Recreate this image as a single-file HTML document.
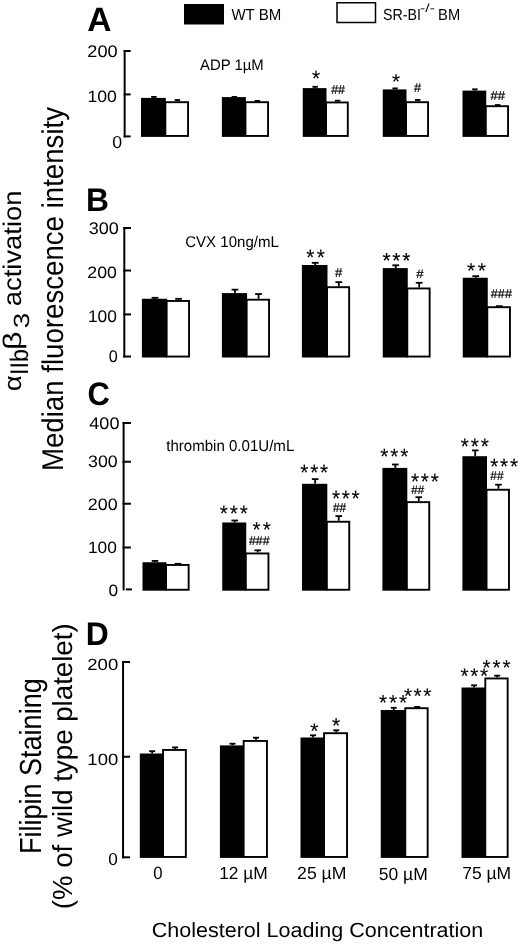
<!DOCTYPE html>
<html lang="en"><head><meta charset="utf-8"><title>Figure</title>
<style>html,body{margin:0;padding:0;background:#fff}svg{display:block;will-change:transform;opacity:0.999}text{text-rendering:geometricPrecision;font-family:"Liberation Sans",sans-serif;fill:#000}</style>
</head><body>
<svg width="520" height="944" viewBox="0 0 520 944">
<rect width="520" height="944" fill="#fff"/>
<g shape-rendering="auto">
<rect x="184.00" y="4.00" width="40.00" height="20.50" fill="#000"/>
<rect x="337.00" y="2.75" width="38.50" height="19.75" fill="#fff" stroke="#000" stroke-width="1.5"/>
<path d="M124.65 50.00L124.65 137.40" stroke="#000" stroke-width="2.0" fill="none"/>
<path d="M123.65 51.00L130.60 51.00" stroke="#000" stroke-width="2.0" fill="none"/>
<path d="M123.65 94.40L130.60 94.40" stroke="#000" stroke-width="2.0" fill="none"/>
<path d="M123.65 136.40L130.60 136.40" stroke="#000" stroke-width="2.0" fill="none"/>
<rect x="141.00" y="97.90" width="24.80" height="39.00" fill="#000"/>
<rect x="165.35" y="102.20" width="22.70" height="33.75" fill="#fff" stroke="#000" stroke-width="1.9"/>
<path d="M153.90 97.90L153.90 96.90" stroke="#000" stroke-width="1.8" fill="none"/>
<path d="M151.15 96.90L156.65 96.90" stroke="#000" stroke-width="1.8" fill="none"/>
<path d="M177.40 101.25L177.40 100.00" stroke="#000" stroke-width="1.8" fill="none"/>
<path d="M174.65 100.00L180.15 100.00" stroke="#000" stroke-width="1.8" fill="none"/>
<rect x="221.90" y="97.10" width="24.00" height="39.80" fill="#000"/>
<rect x="245.45" y="102.20" width="22.60" height="33.75" fill="#fff" stroke="#000" stroke-width="1.9"/>
<path d="M234.40 97.10L234.40 96.90" stroke="#000" stroke-width="1.8" fill="none"/>
<path d="M231.65 96.90L237.15 96.90" stroke="#000" stroke-width="1.8" fill="none"/>
<path d="M257.45 101.25L257.45 100.90" stroke="#000" stroke-width="1.8" fill="none"/>
<path d="M254.70 100.90L260.20 100.90" stroke="#000" stroke-width="1.8" fill="none"/>
<rect x="302.75" y="88.10" width="23.75" height="48.80" fill="#000"/>
<rect x="326.05" y="102.45" width="21.75" height="33.50" fill="#fff" stroke="#000" stroke-width="1.9"/>
<path d="M315.12 88.10L315.12 86.80" stroke="#000" stroke-width="1.8" fill="none"/>
<path d="M312.38 86.80L317.88 86.80" stroke="#000" stroke-width="1.8" fill="none"/>
<path d="M337.62 101.50L337.62 100.65" stroke="#000" stroke-width="1.8" fill="none"/>
<path d="M334.88 100.65L340.38 100.65" stroke="#000" stroke-width="1.8" fill="none"/>
<rect x="382.75" y="89.40" width="23.75" height="47.50" fill="#000"/>
<rect x="406.05" y="102.20" width="22.00" height="33.75" fill="#fff" stroke="#000" stroke-width="1.9"/>
<path d="M395.12 89.40L395.12 88.40" stroke="#000" stroke-width="1.8" fill="none"/>
<path d="M392.38 88.40L397.88 88.40" stroke="#000" stroke-width="1.8" fill="none"/>
<path d="M417.75 101.25L417.75 99.90" stroke="#000" stroke-width="1.8" fill="none"/>
<path d="M415.00 99.90L420.50 99.90" stroke="#000" stroke-width="1.8" fill="none"/>
<rect x="462.50" y="90.60" width="23.75" height="46.30" fill="#000"/>
<rect x="485.80" y="106.20" width="22.25" height="29.75" fill="#fff" stroke="#000" stroke-width="1.9"/>
<path d="M474.88 90.60L474.88 89.30" stroke="#000" stroke-width="1.8" fill="none"/>
<path d="M472.12 89.30L477.62 89.30" stroke="#000" stroke-width="1.8" fill="none"/>
<path d="M497.62 105.25L497.62 105.00" stroke="#000" stroke-width="1.8" fill="none"/>
<path d="M494.88 105.00L500.38 105.00" stroke="#000" stroke-width="1.8" fill="none"/>
<path d="M124.30 227.00L124.30 357.50" stroke="#000" stroke-width="2.0" fill="none"/>
<path d="M123.30 228.00L131.00 228.00" stroke="#000" stroke-width="2.0" fill="none"/>
<path d="M123.30 270.50L131.00 270.50" stroke="#000" stroke-width="2.0" fill="none"/>
<path d="M123.30 314.40L131.00 314.40" stroke="#000" stroke-width="2.0" fill="none"/>
<path d="M123.30 356.50L131.00 356.50" stroke="#000" stroke-width="2.0" fill="none"/>
<rect x="141.90" y="298.75" width="25.20" height="58.75" fill="#000"/>
<rect x="166.65" y="300.95" width="22.40" height="55.60" fill="#fff" stroke="#000" stroke-width="1.9"/>
<path d="M155.00 298.75L155.00 297.80" stroke="#000" stroke-width="1.8" fill="none"/>
<path d="M151.60 297.80L158.40 297.80" stroke="#000" stroke-width="1.8" fill="none"/>
<path d="M178.55 300.00L178.55 298.80" stroke="#000" stroke-width="1.8" fill="none"/>
<path d="M175.15 298.80L181.95 298.80" stroke="#000" stroke-width="1.8" fill="none"/>
<rect x="221.90" y="293.10" width="25.20" height="64.40" fill="#000"/>
<rect x="246.65" y="299.70" width="22.40" height="56.85" fill="#fff" stroke="#000" stroke-width="1.9"/>
<path d="M235.00 293.10L235.00 289.65" stroke="#000" stroke-width="1.8" fill="none"/>
<path d="M231.60 289.65L238.40 289.65" stroke="#000" stroke-width="1.8" fill="none"/>
<path d="M258.55 298.75L258.55 294.00" stroke="#000" stroke-width="1.8" fill="none"/>
<path d="M255.15 294.00L261.95 294.00" stroke="#000" stroke-width="1.8" fill="none"/>
<rect x="301.90" y="265.00" width="25.60" height="92.50" fill="#000"/>
<rect x="327.05" y="287.20" width="22.10" height="69.35" fill="#fff" stroke="#000" stroke-width="1.9"/>
<path d="M315.20 265.00L315.20 262.80" stroke="#000" stroke-width="1.8" fill="none"/>
<path d="M311.80 262.80L318.60 262.80" stroke="#000" stroke-width="1.8" fill="none"/>
<path d="M338.80 286.25L338.80 282.15" stroke="#000" stroke-width="1.8" fill="none"/>
<path d="M335.40 282.15L342.20 282.15" stroke="#000" stroke-width="1.8" fill="none"/>
<rect x="382.75" y="268.10" width="25.00" height="89.40" fill="#000"/>
<rect x="407.30" y="288.45" width="22.35" height="68.10" fill="#fff" stroke="#000" stroke-width="1.9"/>
<path d="M395.75 268.10L395.75 265.30" stroke="#000" stroke-width="1.8" fill="none"/>
<path d="M392.35 265.30L399.15 265.30" stroke="#000" stroke-width="1.8" fill="none"/>
<path d="M419.18 287.50L419.18 282.80" stroke="#000" stroke-width="1.8" fill="none"/>
<path d="M415.78 282.80L422.57 282.80" stroke="#000" stroke-width="1.8" fill="none"/>
<rect x="462.75" y="277.75" width="25.00" height="79.75" fill="#000"/>
<rect x="487.30" y="307.20" width="22.65" height="49.35" fill="#fff" stroke="#000" stroke-width="1.9"/>
<path d="M475.75 277.75L475.75 276.15" stroke="#000" stroke-width="1.8" fill="none"/>
<path d="M472.35 276.15L479.15 276.15" stroke="#000" stroke-width="1.8" fill="none"/>
<path d="M499.32 306.25L499.32 306.15" stroke="#000" stroke-width="1.8" fill="none"/>
<path d="M495.93 306.15L502.72 306.15" stroke="#000" stroke-width="1.8" fill="none"/>
<path d="M123.60 422.00L123.60 590.40" stroke="#000" stroke-width="2.0" fill="none"/>
<path d="M122.60 423.00L130.90 423.00" stroke="#000" stroke-width="2.0" fill="none"/>
<path d="M122.60 461.75L130.90 461.75" stroke="#000" stroke-width="2.0" fill="none"/>
<path d="M122.60 503.75L130.90 503.75" stroke="#000" stroke-width="2.0" fill="none"/>
<path d="M122.60 547.50L130.90 547.50" stroke="#000" stroke-width="2.0" fill="none"/>
<path d="M125.80 589.40L131.90 589.40" stroke="#000" stroke-width="2.0" fill="none"/>
<rect x="142.50" y="562.25" width="24.00" height="28.45" fill="#000"/>
<rect x="166.05" y="564.95" width="22.60" height="24.80" fill="#fff" stroke="#000" stroke-width="1.9"/>
<path d="M155.00 562.25L155.00 560.90" stroke="#000" stroke-width="1.8" fill="none"/>
<path d="M151.70 560.90L158.30 560.90" stroke="#000" stroke-width="1.8" fill="none"/>
<path d="M178.05 564.00L178.05 563.80" stroke="#000" stroke-width="1.8" fill="none"/>
<path d="M174.75 563.80L181.35 563.80" stroke="#000" stroke-width="1.8" fill="none"/>
<rect x="222.25" y="522.50" width="24.00" height="68.20" fill="#000"/>
<rect x="245.80" y="553.45" width="22.65" height="36.30" fill="#fff" stroke="#000" stroke-width="1.9"/>
<path d="M234.75 522.50L234.75 520.50" stroke="#000" stroke-width="1.8" fill="none"/>
<path d="M231.45 520.50L238.05 520.50" stroke="#000" stroke-width="1.8" fill="none"/>
<path d="M257.82 552.50L257.82 550.30" stroke="#000" stroke-width="1.8" fill="none"/>
<path d="M254.52 550.30L261.12 550.30" stroke="#000" stroke-width="1.8" fill="none"/>
<rect x="302.00" y="483.80" width="25.30" height="106.90" fill="#000"/>
<rect x="326.85" y="521.75" width="22.40" height="68.00" fill="#fff" stroke="#000" stroke-width="1.9"/>
<path d="M315.15 483.80L315.15 479.10" stroke="#000" stroke-width="1.8" fill="none"/>
<path d="M311.85 479.10L318.45 479.10" stroke="#000" stroke-width="1.8" fill="none"/>
<path d="M338.75 520.80L338.75 516.10" stroke="#000" stroke-width="1.8" fill="none"/>
<path d="M335.45 516.10L342.05 516.10" stroke="#000" stroke-width="1.8" fill="none"/>
<rect x="382.40" y="467.90" width="24.90" height="122.80" fill="#000"/>
<rect x="406.85" y="502.15" width="22.40" height="87.60" fill="#fff" stroke="#000" stroke-width="1.9"/>
<path d="M395.35 467.90L395.35 464.50" stroke="#000" stroke-width="1.8" fill="none"/>
<path d="M392.05 464.50L398.65 464.50" stroke="#000" stroke-width="1.8" fill="none"/>
<path d="M418.75 501.20L418.75 497.20" stroke="#000" stroke-width="1.8" fill="none"/>
<path d="M415.45 497.20L422.05 497.20" stroke="#000" stroke-width="1.8" fill="none"/>
<rect x="462.40" y="456.20" width="24.60" height="134.50" fill="#000"/>
<rect x="486.55" y="489.75" width="22.40" height="100.00" fill="#fff" stroke="#000" stroke-width="1.9"/>
<path d="M475.20 456.20L475.20 450.40" stroke="#000" stroke-width="1.8" fill="none"/>
<path d="M471.90 450.40L478.50 450.40" stroke="#000" stroke-width="1.8" fill="none"/>
<path d="M498.45 488.80L498.45 484.70" stroke="#000" stroke-width="1.8" fill="none"/>
<path d="M495.15 484.70L501.75 484.70" stroke="#000" stroke-width="1.8" fill="none"/>
<path d="M123.05 661.00L123.05 858.30" stroke="#000" stroke-width="2.0" fill="none"/>
<path d="M122.05 662.00L130.00 662.00" stroke="#000" stroke-width="2.0" fill="none"/>
<path d="M122.05 756.75L130.00 756.75" stroke="#000" stroke-width="2.0" fill="none"/>
<path d="M122.05 857.30L130.00 857.30" stroke="#000" stroke-width="2.0" fill="none"/>
<rect x="139.80" y="753.50" width="23.70" height="104.40" fill="#000"/>
<rect x="163.05" y="749.95" width="22.80" height="107.00" fill="#fff" stroke="#000" stroke-width="1.9"/>
<path d="M152.15 753.50L152.15 751.20" stroke="#000" stroke-width="1.8" fill="none"/>
<path d="M149.15 751.20L155.15 751.20" stroke="#000" stroke-width="1.8" fill="none"/>
<path d="M175.15 749.00L175.15 747.40" stroke="#000" stroke-width="1.8" fill="none"/>
<path d="M172.15 747.40L178.15 747.40" stroke="#000" stroke-width="1.8" fill="none"/>
<rect x="219.90" y="745.40" width="24.20" height="112.50" fill="#000"/>
<rect x="243.65" y="740.95" width="23.30" height="116.00" fill="#fff" stroke="#000" stroke-width="1.9"/>
<path d="M232.50 745.40L232.50 743.70" stroke="#000" stroke-width="1.8" fill="none"/>
<path d="M229.50 743.70L235.50 743.70" stroke="#000" stroke-width="1.8" fill="none"/>
<path d="M256.00 740.00L256.00 737.70" stroke="#000" stroke-width="1.8" fill="none"/>
<path d="M253.00 737.70L259.00 737.70" stroke="#000" stroke-width="1.8" fill="none"/>
<rect x="300.50" y="737.50" width="24.00" height="120.40" fill="#000"/>
<rect x="324.05" y="733.20" width="23.00" height="123.75" fill="#fff" stroke="#000" stroke-width="1.9"/>
<path d="M313.00 737.50L313.00 735.30" stroke="#000" stroke-width="1.8" fill="none"/>
<path d="M310.00 735.30L316.00 735.30" stroke="#000" stroke-width="1.8" fill="none"/>
<path d="M336.25 732.25L336.25 730.30" stroke="#000" stroke-width="1.8" fill="none"/>
<path d="M333.25 730.30L339.25 730.30" stroke="#000" stroke-width="1.8" fill="none"/>
<rect x="380.75" y="710.00" width="25.00" height="147.90" fill="#000"/>
<rect x="405.30" y="708.20" width="22.35" height="148.75" fill="#fff" stroke="#000" stroke-width="1.9"/>
<path d="M393.75 710.00L393.75 707.80" stroke="#000" stroke-width="1.8" fill="none"/>
<path d="M390.75 707.80L396.75 707.80" stroke="#000" stroke-width="1.8" fill="none"/>
<path d="M417.18 707.25L417.18 706.90" stroke="#000" stroke-width="1.8" fill="none"/>
<path d="M414.18 706.90L420.18 706.90" stroke="#000" stroke-width="1.8" fill="none"/>
<rect x="461.50" y="687.50" width="24.25" height="170.40" fill="#000"/>
<rect x="485.30" y="678.45" width="22.35" height="178.50" fill="#fff" stroke="#000" stroke-width="1.9"/>
<path d="M474.12 687.50L474.12 685.30" stroke="#000" stroke-width="1.8" fill="none"/>
<path d="M471.12 685.30L477.12 685.30" stroke="#000" stroke-width="1.8" fill="none"/>
<path d="M497.18 677.50L497.18 675.65" stroke="#000" stroke-width="1.8" fill="none"/>
<path d="M494.18 675.65L500.18 675.65" stroke="#000" stroke-width="1.8" fill="none"/>
</g>
<g>
<text transform="translate(231.42 20.00) scale(0.9392 1)" font-size="16.00">WT BM</text>
<text transform="translate(383.06 19.50) scale(0.8893 1)" font-size="16.00">SR-BI</text>
<text transform="translate(420.09 12.18) scale(1.3241 1)" font-size="11.84">-/-</text>
<text transform="translate(438.09 19.50) scale(0.9176 1)" font-size="16.00">BM</text>
<text transform="translate(87.26 31.25) scale(0.9973 1)" font-size="33.67" font-weight="bold">A</text>
<text transform="translate(85.95 211.25) scale(0.9718 1)" font-size="32.73" font-weight="bold">B</text>
<text transform="translate(87.51 405.27) scale(0.9469 1)" font-size="32.65" font-weight="bold">C</text>
<text transform="translate(85.85 645.00) scale(0.9728 1)" font-size="32.73" font-weight="bold">D</text>
<text transform="translate(87.29 57.03) scale(1.0747 1)" font-size="16.96">200</text>
<text transform="translate(87.42 101.74) scale(1.0786 1)" font-size="16.40">100</text>
<text transform="translate(112.29 148.33) scale(1.0239 1)" font-size="17.39">0</text>
<text transform="translate(199.96 70.20) scale(0.9738 1)" font-size="15.30">ADP 1µM</text>
<text transform="translate(311.89 86.22) scale(0.9350 1)" font-size="22.14" stroke="#000" stroke-width="0.12">*</text>
<text transform="translate(331.19 94.00) scale(0.9492 1)" font-size="13.14" stroke="#000" stroke-width="0.2">##</text>
<text transform="translate(391.89 88.73) scale(0.9662 1)" font-size="21.43" stroke="#000" stroke-width="0.12">*</text>
<text transform="translate(413.94 92.25) scale(1.0009 1)" font-size="12.77" stroke="#000" stroke-width="0.2">#</text>
<text transform="translate(490.53 100.40) scale(1.0053 1)" font-size="12.99" stroke="#000" stroke-width="0.2">##</text>
<text transform="translate(88.72 233.58) scale(1.0760 1)" font-size="16.75">300</text>
<text transform="translate(87.36 277.53) scale(1.0716 1)" font-size="16.54">200</text>
<text transform="translate(87.95 322.03) scale(1.0323 1)" font-size="16.82">100</text>
<text transform="translate(108.65 362.33) scale(0.9587 1)" font-size="16.82">0</text>
<text transform="translate(185.25 247.30) scale(0.9694 1)" font-size="15.50">CVX 10ng/mL</text>
<text transform="translate(306.14 264.72) scale(0.9354 1)" font-size="22.29" stroke="#000" stroke-width="0.12" letter-spacing="2.557">**</text>
<text transform="translate(335.03 276.70) scale(1.0122 1)" font-size="12.99" stroke="#000" stroke-width="0.2">#</text>
<text transform="translate(382.39 267.78) scale(0.9537 1)" font-size="21.86" stroke="#000" stroke-width="0.12" letter-spacing="1.904">***</text>
<text transform="translate(416.18 277.50) scale(1.0672 1)" font-size="12.41" stroke="#000" stroke-width="0.2">#</text>
<text transform="translate(466.89 278.23) scale(0.9728 1)" font-size="21.43" stroke="#000" stroke-width="0.12" letter-spacing="2.715">**</text>
<text transform="translate(490.84 297.50) scale(0.9904 1)" font-size="12.77" stroke="#000" stroke-width="0.2">###</text>
<text transform="translate(89.34 428.58) scale(1.0771 1)" font-size="16.75">400</text>
<text transform="translate(88.08 467.08) scale(1.0681 1)" font-size="16.61">300</text>
<text transform="translate(87.86 510.33) scale(1.0766 1)" font-size="16.61">200</text>
<text transform="translate(87.95 553.04) scale(1.0590 1)" font-size="16.40">100</text>
<text transform="translate(108.56 595.53) scale(1.0448 1)" font-size="16.54">0</text>
<text transform="translate(166.27 451.40) scale(0.9651 1)" font-size="15.60">thrombin 0.01U/mL</text>
<text transform="translate(219.64 520.92) scale(0.9354 1)" font-size="22.29" stroke="#000" stroke-width="0.12" letter-spacing="2.075">***</text>
<text transform="translate(252.54 537.08) scale(0.9663 1)" font-size="21.57" stroke="#000" stroke-width="0.12" letter-spacing="2.268">**</text>
<text transform="translate(248.94 544.75) scale(0.9715 1)" font-size="12.77" stroke="#000" stroke-width="0.2">###</text>
<text transform="translate(300.34 480.23) scale(0.9475 1)" font-size="22.00" stroke="#000" stroke-width="0.12" letter-spacing="1.785">***</text>
<text transform="translate(332.04 506.12) scale(0.9475 1)" font-size="22.00" stroke="#000" stroke-width="0.12" letter-spacing="1.732">***</text>
<text transform="translate(332.94 512.20) scale(0.9145 1)" font-size="12.99" stroke="#000" stroke-width="0.2">##</text>
<text transform="translate(380.34 463.97) scale(0.9414 1)" font-size="22.14" stroke="#000" stroke-width="0.12" letter-spacing="1.956">***</text>
<text transform="translate(410.94 488.73) scale(0.9475 1)" font-size="22.00" stroke="#000" stroke-width="0.12" letter-spacing="1.891">***</text>
<text transform="translate(411.24 493.60) scale(0.9356 1)" font-size="12.41" stroke="#000" stroke-width="0.2">##</text>
<text transform="translate(460.64 453.82) scale(0.9235 1)" font-size="22.57" stroke="#000" stroke-width="0.12" letter-spacing="2.048">***</text>
<text transform="translate(490.24 474.03) scale(0.9475 1)" font-size="22.00" stroke="#000" stroke-width="0.12" letter-spacing="1.838">***</text>
<text transform="translate(490.34 479.80) scale(0.9320 1)" font-size="12.85" stroke="#000" stroke-width="0.2">##</text>
<text transform="translate(87.32 669.84) scale(1.1389 1)" font-size="16.25">200</text>
<text transform="translate(87.36 764.84) scale(1.1375 1)" font-size="16.25">100</text>
<text transform="translate(108.31 864.63) scale(0.9878 1)" font-size="17.39">0</text>
<text transform="translate(310.13 738.04) scale(0.9992 1)" font-size="21.14" stroke="#000" stroke-width="0.12">*</text>
<text transform="translate(332.03 732.58) scale(0.9794 1)" font-size="21.57" stroke="#000" stroke-width="0.12">*</text>
<text transform="translate(378.89 710.08) scale(0.9663 1)" font-size="21.57" stroke="#000" stroke-width="0.12" letter-spacing="2.009">***</text>
<text transform="translate(403.89 703.04) scale(0.9859 1)" font-size="21.14" stroke="#000" stroke-width="0.12" letter-spacing="1.639">***</text>
<text transform="translate(460.39 683.04) scale(0.9859 1)" font-size="21.14" stroke="#000" stroke-width="0.12" letter-spacing="1.715">***</text>
<text transform="translate(482.39 675.08) scale(0.9663 1)" font-size="21.57" stroke="#000" stroke-width="0.12" letter-spacing="2.009">***</text>
<text transform="translate(153.33 879.32) scale(0.9407 1)" font-size="17.81">0</text>
<text transform="translate(219.20 878.90) scale(0.9926 1)" font-size="17.50">12 µM</text>
<text transform="translate(297.12 878.90) scale(1.0068 1)" font-size="17.50">25 µM</text>
<text transform="translate(378.80 880.00) scale(0.9977 1)" font-size="17.50">50 µM</text>
<text transform="translate(462.23 878.60) scale(0.9993 1)" font-size="17.50">75 µM</text>
<text transform="translate(151.72 936.80) scale(1.0455 1)" font-size="20.60">Cholesterol Loading Concentration</text>
<text transform="translate(63.25 471.03) rotate(-90) scale(0.9212 1)" font-size="30.00">Median fluorescence intensity</text>
<text transform="translate(21.10 391.17) rotate(-90) scale(1.1260 1)" font-size="24.50">α</text>
<text transform="translate(28.30 374.96) rotate(-90) scale(0.9147 1)" font-size="25.50">IIb</text>
<text transform="translate(21.10 350.06) rotate(-90) scale(1.2650 1)" font-size="25.50">β</text>
<text transform="translate(29.40 328.25) rotate(-90) scale(1.2727 1)" font-size="22.00">3</text>
<text transform="translate(20.90 306.16) rotate(-90) scale(1.0734 1)" font-size="25.50">activation</text>
<text transform="translate(41.20 854.03) rotate(-90) scale(0.8860 1)" font-size="30.50">Filipin Staining</text>
<text transform="translate(72.00 909.23) rotate(-90) scale(1.0020 1)" font-size="27.60">(% of wild type platelet)</text>
</g>
</svg>
</body></html>
